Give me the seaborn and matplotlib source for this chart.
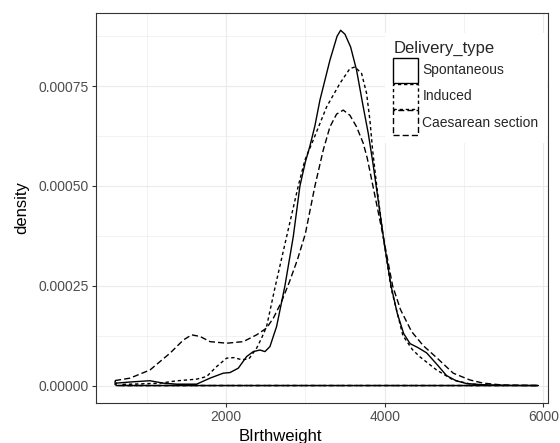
import matplotlib
matplotlib.use("Agg")
import matplotlib.pyplot as plt
from matplotlib.patches import Patch
from matplotlib.ticker import FuncFormatter
import seaborn as sns
import pandas as pd

# ---- data ----
categories = ["Spontaneous", "Induced", "Caesarean section"]

spont_x = [614, 800, 1042, 1210, 1378, 1630, 1798, 1966, 2050, 2155, 2260, 2344, 2428,
           2491, 2554, 2596, 2638, 2743, 2848, 2932, 3000, 3058, 3120, 3184, 3310, 3400,
           3445, 3500, 3571, 3646, 3730, 3793, 3850, 3900, 3950, 4000, 4080, 4160, 4240,
           4320, 4420, 4528, 4650, 4780, 4900, 5032, 5300, 5600, 5936]
spont_y = [0.06e-4, 0.09e-4, 0.12e-4, 0.06e-4, 0.035e-4, 0.035e-4, 0.185e-4, 0.31e-4,
           0.325e-4, 0.435e-4, 0.726e-4, 0.85e-4, 0.89e-4, 0.85e-4, 0.976e-4, 1.23e-4,
           1.48e-4, 2.5e-4, 3.73e-4, 5.0e-4, 5.6e-4, 6.0e-4, 6.5e-4, 7.15e-4, 8.15e-4,
           8.75e-4, 8.9e-4, 8.8e-4, 8.48e-4, 7.9e-4, 6.98e-4, 6.32e-4, 5.6e-4, 4.9e-4,
           4.2e-4, 3.5e-4, 2.5e-4, 1.8e-4, 1.3e-4, 1.05e-4, 0.95e-4, 0.82e-4, 0.55e-4,
           0.25e-4, 0.12e-4, 0.05e-4, 0.01e-4, 0.002e-4, 0.0]

induced_x = [700, 900, 1169, 1378, 1630, 1756, 1882, 2008, 2100, 2200, 2290, 2386, 2449,
             2512, 2617, 2764, 2911, 2995, 3100, 3268, 3436, 3562, 3625, 3709, 3772, 3814,
             3848, 3900, 3980, 4080, 4230, 4350, 4444, 4654, 4864, 5074, 5300, 5500]
induced_y = [0.03e-4, 0.04e-4, 0.06e-4, 0.118e-4, 0.16e-4, 0.225e-4, 0.475e-4, 0.686e-4,
             0.70e-4, 0.645e-4, 0.67e-4, 0.936e-4, 1.19e-4, 1.48e-4, 2.45e-4, 3.73e-4,
             5.0e-4, 5.65e-4, 6.15e-4, 6.98e-4, 7.57e-4, 7.94e-4, 7.98e-4, 7.82e-4,
             7.32e-4, 6.65e-4, 5.9e-4, 5.0e-4, 3.75e-4, 2.45e-4, 1.25e-4, 0.9e-4, 0.72e-4,
             0.39e-4, 0.14e-4, 0.04e-4, 0.01e-4, 0.0]

caes_x = [602, 790, 1042, 1294, 1462, 1567, 1672, 1798, 2008, 2218, 2386, 2512, 2600, 2700,
          2800, 2900, 3000, 3121, 3226, 3310, 3394, 3478, 3562, 3646, 3730, 3780, 3852,
          3980, 4100, 4200, 4340, 4486, 4654, 4864, 5074, 5242, 5500, 5936]
caes_y = [0.125e-4, 0.185e-4, 0.39e-4, 0.81e-4, 1.14e-4, 1.27e-4, 1.23e-4, 1.10e-4,
          1.06e-4, 1.10e-4, 1.27e-4, 1.44e-4, 1.7e-4, 2.1e-4, 2.6e-4, 3.15e-4, 3.8e-4,
          5.0e-4, 5.9e-4, 6.48e-4, 6.8e-4, 6.9e-4, 6.77e-4, 6.48e-4, 6.07e-4, 5.7e-4,
          5.0e-4, 3.75e-4, 2.5e-4, 1.9e-4, 1.35e-4, 1.0e-4, 0.7e-4, 0.31e-4, 0.14e-4,
          0.06e-4, 0.01e-4, 0.0]

x_ticks = [2000, 4000, 6000]
x_minor = [1000, 3000, 5000]
y_ticks = [0.0, 0.00025, 0.00050, 0.00075]
y_minor = [0.000125, 0.000375, 0.000625, 0.000875]

# ---- build a long table; each group is drawn as a closed outline like geom_density ----
frames = []
for name, xs, ys in zip(categories, [spont_x, induced_x, caes_x], [spont_y, induced_y, caes_y]):
    px = list(xs) + [xs[-1], xs[0], xs[0]]
    py = list(ys) + [0.0, 0.0, ys[0]]
    frames.append(pd.DataFrame({"Birthweight": px, "density": py, "Delivery_type": name}))
df = pd.concat(frames, ignore_index=True)

sns.set_theme(style="white")
plt.rcParams["font.family"] = ["Liberation Sans", "DejaVu Sans"]
plt.rcParams["lines.scale_dashes"] = False

W, H = 560, 443
fig = plt.figure(figsize=(W / 100, H / 100), dpi=100)
fig.patch.set_facecolor("white")
L, R, T, B = 95.7, 548.0, 12.7, 403.3
ax = fig.add_axes([L / W, 1 - B / H, (R - L) / W, (B - T) / H])
ax.set_facecolor("white")

dash_map = {"Spontaneous": "", "Induced": (2.4, 2.0), "Caesarean section": (4.4, 2.2)}
sns.lineplot(data=df, x="Birthweight", y="density", style="Delivery_type",
             style_order=categories, dashes=dash_map, color="black", sort=False,
             estimator=None, errorbar=None, linewidth=1.0, legend=False, ax=ax)

ax.set_xlim(357.5, 6059)
ax.set_ylim(-0.0000445, 0.000934)

ax.set_xticks(x_ticks)
ax.set_xticks(x_minor, minor=True)
ax.set_yticks(y_ticks)
ax.set_yticks(y_minor, minor=True)
ax.yaxis.set_major_formatter(FuncFormatter(lambda v, p: f"{v:.5f}"))
ax.xaxis.set_major_formatter(FuncFormatter(lambda v, p: f"{v:.0f}"))

ax.grid(which="major", color="#EBEBEB", linewidth=0.8)
ax.grid(which="minor", color="#EBEBEB", linewidth=0.45)
ax.set_axisbelow(True)

for s in ax.spines.values():
    s.set_visible(True)
    s.set_color("#333333")
    s.set_linewidth(0.8)

ax.tick_params(which="major", length=3.2, width=0.8, color="#333333",
               labelcolor="#4D4D4D", labelsize=10, pad=1.6, bottom=True, left=True)
ax.tick_params(which="minor", length=0, bottom=False, left=False)

ax.set_xlabel("BIrthweight", fontsize=12, color="black")
ax.set_ylabel("density", fontsize=12, color="black")
ax.xaxis.set_label_coords(0.5, 1 - 429.5 / H, transform=fig.transFigure)
ax.yaxis.set_label_coords(29 / W, 1 - 208 / H, transform=fig.transFigure)

handles = [Patch(facecolor="white", edgecolor="black", linewidth=1.0, linestyle="-"),
           Patch(facecolor="white", edgecolor="black", linewidth=1.0, linestyle=(0, (2.4, 2.0))),
           Patch(facecolor="white", edgecolor="black", linewidth=1.0, linestyle=(0, (4.4, 2.2)))]
leg = ax.legend(handles, categories, title="Delivery_type", loc="upper left",
                bbox_to_anchor=(385 / W, 1 - 33 / H), bbox_transform=fig.transFigure,
                fontsize=10, title_fontsize=12, handlelength=1.8, handleheight=2.39,
                handletextpad=0.3, labelspacing=0.08, borderpad=0.6, borderaxespad=0,
                frameon=True, fancybox=False, alignment="left")
leg.get_frame().set_facecolor("white")
leg.get_frame().set_edgecolor("none")
leg.get_frame().set_alpha(1)

fig.savefig("out.png", dpi=100)
